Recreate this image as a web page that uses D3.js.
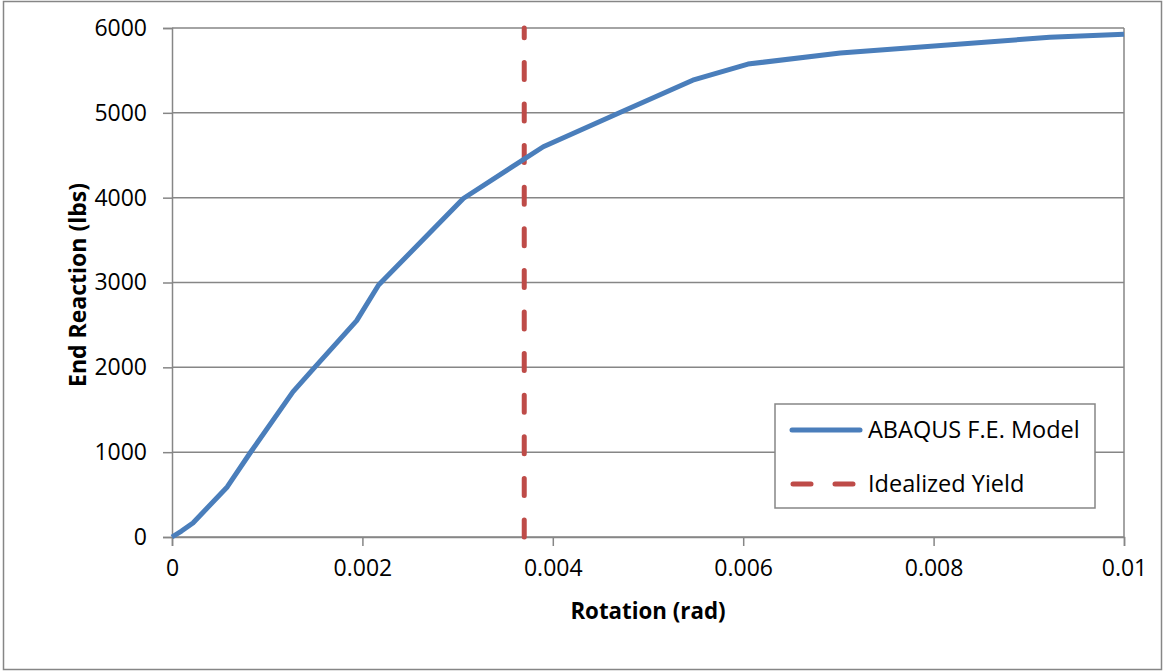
<!DOCTYPE html>
<html><head><meta charset="utf-8">
<script src="https://cdn.jsdelivr.net/npm/d3@7"></script>
<style>body{margin:0;background:#fff}svg{display:block}text{font-family:"Open Sans",Lato,sans-serif;fill:#000}</style>
</head><body><svg id="c" width="1163" height="671"></svg>
<script>
const rotation = [0, 0.00010, 0.00022, 0.00033, 0.00058, 0.00082, 0.00127, 0.00148, 0.00194, 0.00217, 0.00306, 0.00390, 0.00470, 0.00547, 0.00605, 0.00702, 0.00922, 0.01000];
const reaction = [0, 70, 165, 295, 590, 990, 1710, 1975, 2550, 2970, 3990, 4600, 5000, 5385, 5575, 5705, 5890, 5925];
const yieldRotation = 0.0037;
const xTicks = [0, 0.002, 0.004, 0.006, 0.008, 0.01];
const xTickLabels = ["0", "0.002", "0.004", "0.006", "0.008", "0.01"];
const yTicks = [0, 1000, 2000, 3000, 4000, 5000, 6000];
const seriesNames = ["ABAQUS F.E. Model", "Idealized Yield"];

const svg = d3.select("#c");
const L = 172, R = 1124, T = 28, B = 537;
const x = d3.scaleLinear().domain([0, 0.01]).range([L, R]);
const y = d3.scaleLinear().domain([0, 6000]).range([B, T]);
const grey = "#868686";

svg.append("rect").attr("x", 3.5).attr("y", 1.5).attr("width", 1158).attr("height", 668)
  .attr("fill", "none").attr("stroke", grey).attr("stroke-width", 1.5);

svg.append("g").selectAll("line").data(yTicks).join("line")
  .attr("x1", L).attr("x2", R).attr("y1", d => y(d)).attr("y2", d => y(d))
  .attr("stroke", grey).attr("stroke-width", 1.5);
svg.append("line").attr("x1", R).attr("x2", R).attr("y1", T).attr("y2", B).attr("stroke", grey).attr("stroke-width", 1.5);

const yAxis = d3.axisLeft(y).tickValues(yTicks).tickSize(9).tickPadding(16).tickFormat(d3.format("d"));
const gy = svg.append("g").attr("transform", `translate(${L},0)`).call(yAxis);
const xAxis = d3.axisBottom(x).tickValues(xTicks).tickSize(9).tickPadding(14).tickFormat((d, i) => xTickLabels[i]);
const gx = svg.append("g").attr("transform", `translate(0,${B})`).call(xAxis);
[gx, gy].forEach(g => {
  g.select(".domain").attr("stroke", grey).attr("stroke-width", 1.5);
  g.selectAll(".tick line").attr("stroke", grey).attr("stroke-width", 1.5);
  g.selectAll("text").attr("font-size", 23).attr("font-family", "Lato").attr("fill", "#000");
});

svg.append("path")
  .attr("d", d3.line()([[x(yieldRotation), y(0)], [x(yieldRotation), y(6000)]]))
  .attr("stroke", "#be4b48").attr("stroke-width", 5).attr("stroke-linecap", "round")
  .attr("stroke-dasharray", "17,24.6").attr("fill", "none");

const data = rotation.map((r, i) => [r, reaction[i]]);
svg.append("path").datum(data)
  .attr("d", d3.line().x(d => x(d[0])).y(d => y(d[1])))
  .attr("stroke", "#4a7ebb").attr("stroke-width", 5).attr("stroke-linejoin", "round")
  .attr("fill", "none");

svg.append("text").attr("x", 648).attr("y", 619).attr("text-anchor", "middle")
  .attr("font-size", 22.3).attr("font-weight", "bold").text("Rotation (rad)");
svg.append("text").attr("transform", "translate(86,285) rotate(-90)").attr("text-anchor", "middle")
  .attr("font-size", 23).attr("font-weight", "bold").text("End Reaction (lbs)");

const lg = svg.append("g");
lg.append("rect").attr("x", 775).attr("y", 404).attr("width", 320).attr("height", 104)
  .attr("fill", "#fff").attr("stroke", grey).attr("stroke-width", 1.5);
lg.append("line").attr("x1", 792).attr("x2", 860).attr("y1", 430).attr("y2", 430)
  .attr("stroke", "#4a7ebb").attr("stroke-width", 5).attr("stroke-linecap", "round");
lg.append("line").attr("x1", 793).attr("x2", 860).attr("y1", 484).attr("y2", 484)
  .attr("stroke", "#be4b48").attr("stroke-width", 5).attr("stroke-linecap", "round").attr("stroke-dasharray", "18,24");
lg.selectAll("text.l").data(seriesNames).join("text").attr("class", "l")
  .attr("x", 868).attr("y", (d, i) => 438 + i * 54).attr("font-size", 23.5).text(d => d);
</script></body></html>
